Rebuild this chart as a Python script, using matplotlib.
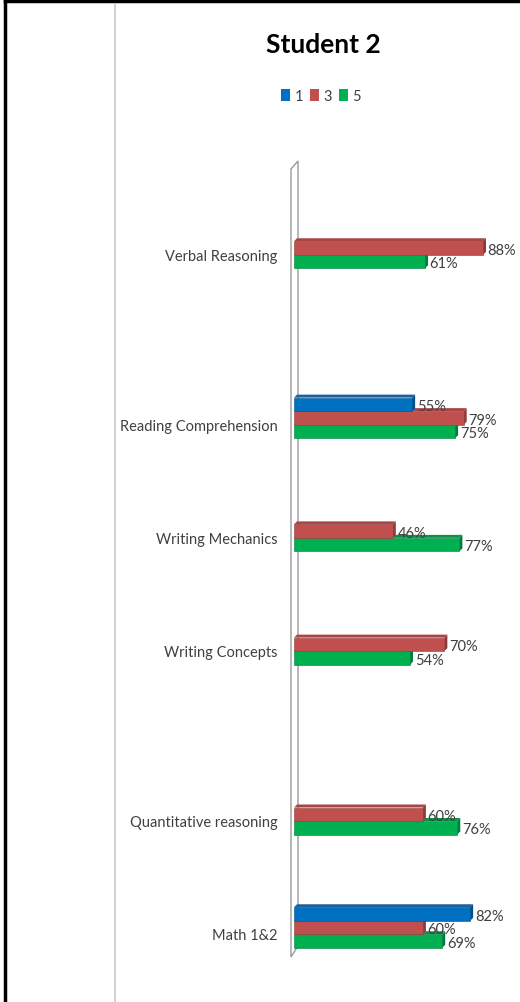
import matplotlib
matplotlib.use('Agg')
import matplotlib.pyplot as plt
import numpy as np
from matplotlib.patches import Patch, Polygon
from matplotlib.lines import Line2D

nan = np.nan

# categories, blank entries are empty slots between groups
categories = ['Verbal Reasoning', '', '', 'Reading Comprehension', '', 'Writing Mechanics', '',
              'Writing Concepts', '', '', 'Quantitative reasoning', '', 'Math 1&2']
series_names = ['1', '3', '5']
s1 = [nan, nan, nan, 55, nan, nan, nan, nan, nan, nan, nan, nan, 82]
s3 = [88, nan, nan, 79, nan, 46, nan, 70, nan, nan, 60, nan, 60]
s5 = [61, nan, nan, 75, nan, 77, nan, 54, nan, nan, 76, nan, 69]
series = [s1, s3, s5]

front = ['#0070C0', '#C0504D', '#00B050']
top_c = ['#1f5f9a', '#a94643', '#0b9448']
side_c = ['#00508a', '#8e3a38', '#007d3c']
txt_c = '#404040'

plt.rcParams['font.family'] = ['Lato', 'DejaVu Sans']

W, H = 520, 1003
fig = plt.figure(figsize=(W / 100, H / 100), dpi=100)

def fpos(x, y):
    return (x / W, 1 - y / H)

slot = (935 - 255.5) / 12.0
ax = fig.add_axes([294 / W, 1 - 960 / H, 214.8 / W, (960 - 165) / H])
ax.set_xlim(0, 100)
ax.set_ylim(12 + (960 - 935) / slot, -(255.5 - 165) / slot)

bh = 13.5 / slot          # bar thickness
dx = 3.0 / 2.148          # 3d depth, x
dy = 3.0 / slot           # 3d depth, y
shift = -6.5 / slot       # groups sit a little above their label

z = 2
for i in range(len(categories)):
    # draw from the bottom bar up so upper fronts cover lower top faces
    for k in [2, 1, 0]:
        v = series[k][i]
        if np.isnan(v):
            continue
        yc = i + shift + (k - 1) * bh
        yt = yc - bh / 2
        yb = yc + bh / 2
        ax.add_patch(Polygon([(0, yt), (v, yt), (v + dx, yt - dy), (dx, yt - dy)],
                             closed=True, fc=top_c[k], ec='none', zorder=z))
        ax.add_patch(Polygon([(v, yt), (v + dx, yt - dy), (v + dx, yb - dy), (v, yb)],
                             closed=True, fc=side_c[k], ec='none', zorder=z))
        ax.barh(yc, v, height=bh, color=front[k], edgecolor=side_c[k], linewidth=0.4, zorder=z + 1)
        ax.text(v + dx + 0.8, yc + 0.03, '%d%%' % v, ha='left', va='center',
                fontsize=10.5, color=txt_c, zorder=z + 5)
        z += 2

ax.set_yticks(range(len(categories)))
ax.set_yticklabels(categories, fontsize=10.5, color=txt_c)
ax.tick_params(axis='y', length=0, pad=12)
ax.set_xticks([])
for sp in ax.spines.values():
    sp.set_visible(False)
ax.patch.set_visible(False)

# back wall
wall = Polygon([fpos(291, 170), fpos(298, 162), fpos(298, 947), fpos(291, 958)],
               closed=True, transform=fig.transFigure, fc='white', ec='#9a9a9a', lw=1.0,
               clip_on=False, zorder=1)
ax.add_patch(wall)

# title and legend
fig.text(323 / W, 1 - 45 / H, 'Student 2', ha='center', va='center', fontsize=19, fontweight='bold')
handles = [Patch(facecolor=c) for c in front]
leg = fig.legend(handles, series_names, loc='center', bbox_to_anchor=fpos(321, 97), ncol=3,
                 frameon=False, handlelength=0.6, handleheight=0.9, handletextpad=0.3,
                 columnspacing=0.5, fontsize=10.5)
for t in leg.get_texts():
    t.set_color(txt_c)

# page borders
fig.add_artist(Line2D([5 / W, 5 / W], [0, 1 - 2 / H], transform=fig.transFigure, color='black', lw=2.5))
fig.add_artist(Line2D([5 / W, 1], [1 - 2 / H, 1 - 2 / H], transform=fig.transFigure, color='black', lw=2.5))
fig.add_artist(Line2D([115 / W, 115 / W], [0, 1 - 5 / H], transform=fig.transFigure, color='#c8c8c8', lw=1.2))

fig.savefig('out.png', dpi=100)
